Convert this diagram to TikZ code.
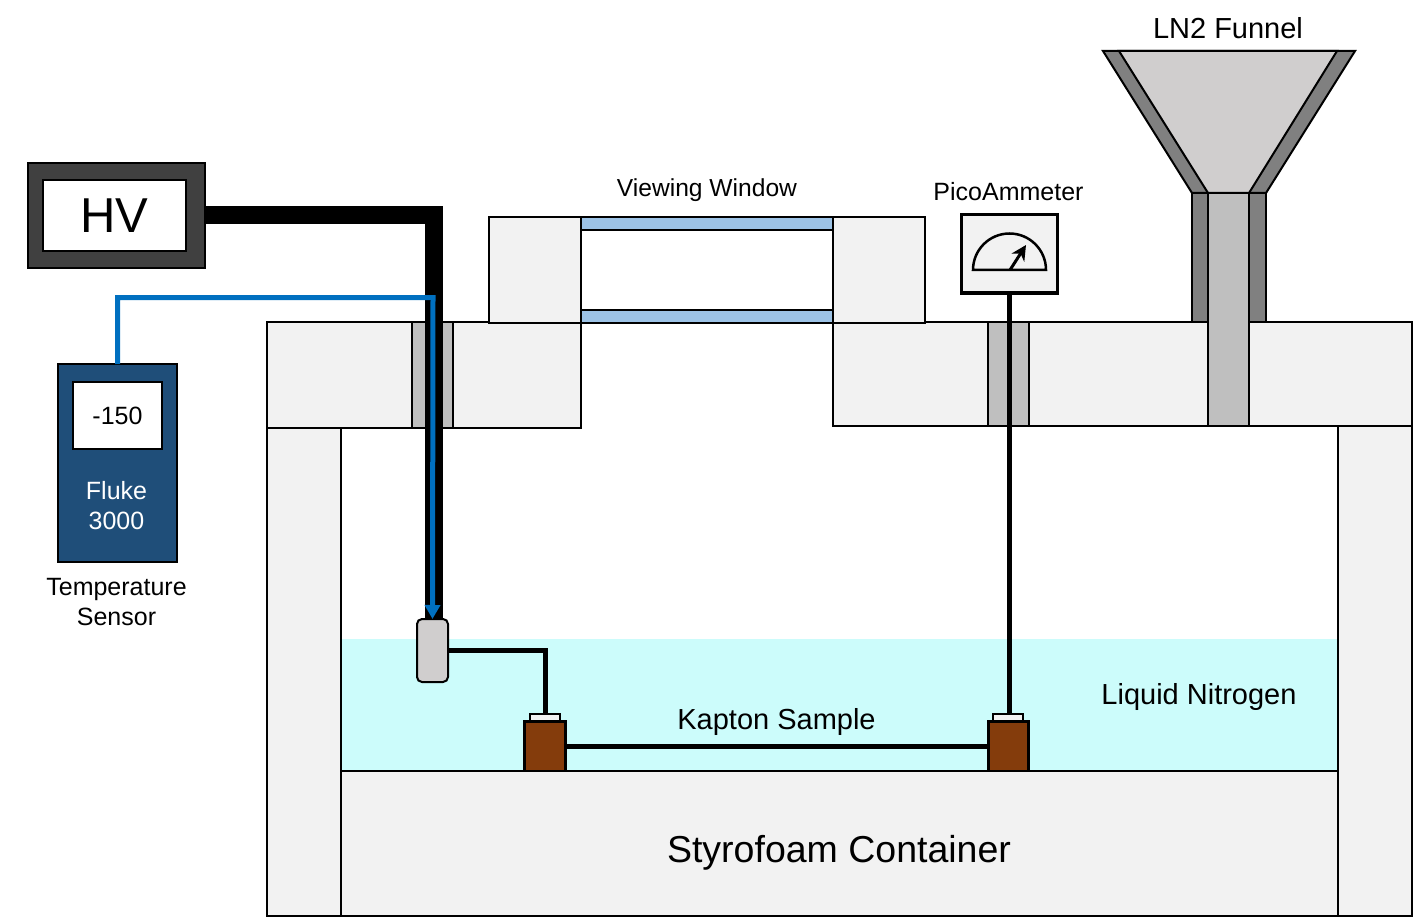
\documentclass[tikz,border=0pt]{standalone}
\usepackage{fontspec}
\setmainfont{Liberation Sans}
\usetikzlibrary{arrows.meta}
\definecolor{foamgray}{HTML}{F2F2F2}
\definecolor{plugray}{HTML}{BFBFBF}
\definecolor{funneldark}{HTML}{808080}
\definecolor{funnellight}{HTML}{D0CECE}
\definecolor{glassblue}{HTML}{9DC3E6}
\definecolor{nitrogen}{HTML}{CCFCFB}
\definecolor{hvgray}{HTML}{404040}
\definecolor{flukeblue}{HTML}{1F4E79}
\definecolor{cableblue}{HTML}{0070C0}
\definecolor{clampbrown}{HTML}{843C0C}
\tikzset{
    block/.style={shape=rectangle,draw=black,line width=2pt,inner sep=0pt,outer sep=0pt},
    foam/.style={block,fill=foamgray},
    plug/.style={block,fill=plugray},
    glass/.style={block,fill=glassblue},
    clamp/.style={block,line width=2.5pt,fill=clampbrown},
    clampcap/.style={block,fill=foamgray},
    txtlabel/.style={inner sep=0pt,align=center},
    wire/.style={draw=black,line width=5pt},
}
\newcommand{\fs}[1]{\fontsize{#1}{1.2\dimexpr#1pt\relax}\selectfont}

\begin{document}
\begin{tikzpicture}[x=1pt,y=-1pt]
    \useasboundingbox (0,0) rectangle (1413,917);

    \node[fill=nitrogen,inner sep=0pt,outer sep=0pt,minimum width=997pt,minimum height=132pt] (ln) at (839.5,705) {};

    \node[foam,minimum width=314pt,minimum height=106pt] (top_l) at (424,375) {};
    \node[foam,minimum width=579pt,minimum height=104pt] (top_r) at (1122.5,374) {};
    \node[foam,minimum width=74pt,minimum height=488pt] (wall_l) at (304,672) {};
    \node[foam,minimum width=74pt,minimum height=490pt] (wall_r) at (1375,671) {};
    \node[foam,minimum width=997pt,minimum height=145pt] (base) at (839.5,843.5) {};

    \node[foam,minimum width=92pt,minimum height=106pt] (frame_l) at (535,270) {};
    \node[foam,minimum width=92pt,minimum height=106pt] (frame_r) at (879,270) {};
    \node[glass,minimum width=252pt,minimum height=13pt] (glass_t) at (707,223.5) {};
    \node[glass,minimum width=252pt,minimum height=13pt] (glass_b) at (707,316.5) {};

    \node[plug,minimum width=41pt,minimum height=106pt] (plug_l) at (432.5,375) {};
    \node[plug,minimum width=41pt,minimum height=104pt] (plug_r) at (1008.5,374) {};

    % funnel
    \draw[black,line width=2pt,fill=funneldark] (1103,51) -- (1355,51) -- (1266,193) -- (1192,193) -- cycle;
    \draw[black,line width=2pt,fill=funnellight] (1119,51) -- (1337,51) -- (1249,193) -- (1208,193) -- cycle;
    \node[block,fill=funneldark,minimum width=74pt,minimum height=129pt] (stem) at (1229,257.5) {};
    \node[plug,minimum width=41pt,minimum height=233pt] (stem_in) at (1228.5,309.5) {};

    % HV supply
    \node[block,fill=hvgray,minimum width=177pt,minimum height=105pt] (hv) at (116.5,215.5) {};
    \node[block,fill=white,minimum width=143pt,minimum height=71pt,font=\fs{49}] (hv_in) at (114.5,215.5) {HV};

    % temperature sensor
    \node[block,fill=flukeblue,minimum width=119pt,minimum height=198pt] (fluke) at (117.5,463) {};
    \node[block,fill=white,minimum width=89pt,minimum height=67pt,font=\fs{25}] (fluke_in) at (117.5,415.5) {-150};
    \node[txtlabel,text=white,font=\fs{25}] (fluke_txt) at (116.5,506) {Fluke\\3000};
    \node[txtlabel,font=\fs{25}] (temp_txt) at (116.5,602) {Temperature\\Sensor};

    % sample
    \node[clamp,minimum width=41pt,minimum height=49.5pt] (clamp_l) at (545,746) {};
    \node[clamp,minimum width=40pt,minimum height=49.5pt] (clamp_r) at (1008.5,746) {};
    \node[clampcap,minimum width=30pt,minimum height=7pt] (cap_l) at (545,717.5) {};
    \node[clampcap,minimum width=30pt,minimum height=7pt] (cap_r) at (1008,717.5) {};
    \node[block,fill=funnellight,rounded corners=5pt,minimum width=31pt,minimum height=63pt] (probe) at (432.5,650.5) {};

    % meter
    \node[block,line width=3pt,fill=foamgray,minimum width=96pt,minimum height=78pt] (meter) at (1009,254) {};
    \draw[black,line width=2.5pt] (973,270) arc (180:360:36.5) -- cycle;
    \coordinate (needle_s) at (1010,270);
    \coordinate (needle_e) at (1026,245);
    \draw[black,line width=3pt,-{Stealth[length=15pt, width=15pt]}] (needle_s) -- (needle_e);

    % cables
    \coordinate (blue_turn) at (433,297.5);
    \draw[black,line width=18pt] (hv.east) -- (433.5,215.5) -- (433.5,618);
    \draw[wire] (meter.south) -- (meter.south |- cap_r.north);
    \draw[wire] (probe.east) -| (cap_l.north);
    \draw[wire] (clamp_l.east) -- (clamp_r.west);
    \draw[cableblue,line width=5pt,-{Triangle[length=14pt, width=15pt]}] (fluke.north) |- (blue_turn) -- (probe.north);

    % labels
    \node[txtlabel,font=\fs{29}] (funnel_txt) at (1228,28) {LN2 Funnel};
    \node[txtlabel,font=\fs{24.6}] (window_txt) at (707,190) {Viewing Window};
    \node[txtlabel,font=\fs{25}] (meter_txt) at (1008.5,192) {PicoAmmeter};
    \node[txtlabel,font=\fs{29}] (kapton_txt) at (776.5,722) {Kapton Sample};
    \node[txtlabel,font=\fs{29}] (ln_txt) at (1199,697) {Liquid Nitrogen};
    \node[txtlabel,font=\fs{37.5}] (base_txt) at (839,853) {Styrofoam Container};
\end{tikzpicture}
\end{document}
